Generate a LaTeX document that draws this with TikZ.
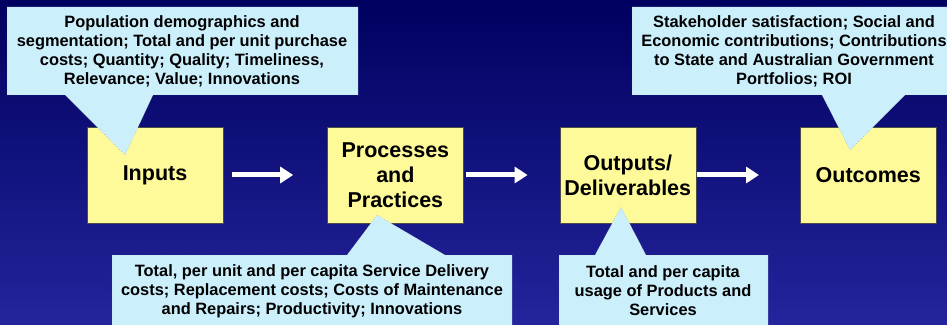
\documentclass[tikz,border=0pt]{standalone}
\usepackage{fontspec}
\setmainfont{Liberation Sans}
\usetikzlibrary{shapes,arrows.meta,positioning}

\definecolor{navytop}{RGB}{0,0,96}
\definecolor{navybottom}{RGB}{36,36,156}

\begin{document}
\begin{tikzpicture}[x=1pt, y=1pt, node distance=104pt,
  stage/.style={draw=black!70, fill=yellow!40, minimum width=136pt, minimum height=96pt, align=center, inner sep=0pt, font=\fontsize{21.5}{25}\selectfont\bfseries},
  flow/.style={line width=5pt, white, -{Triangle[length=13pt, width=16pt]}},
  note/.style={fill=cyan!20, draw=gray, dotted},
  notetext/.style={align=center, inner sep=0pt, font=\fontsize{16.4}{19}\selectfont\bfseries}]
  \useasboundingbox (0,0) rectangle (947,324);
  \shade[top color=navytop, bottom color=navybottom] (0,0) rectangle (947,324);

  \node[stage] (inputs) at (155,149) {Inputs};
  \node[stage, right=of inputs] (process) {Processes\\and\\Practices};
  \node[stage, right=96pt of process] (outputs) {Outputs/\\Deliverables};
  \node[stage, right=of outputs] (outcomes) {Outcomes};

  \draw[flow, shorten <=9pt, shorten >=34pt] (inputs) -- (process);
  \draw[flow, shorten <=2pt, shorten >=32pt] (process) -- (outputs);
  \draw[flow, shorten <=1pt, shorten >=41pt] (outputs) -- (outcomes);

  % callouts
  \draw[note] (7,317) -- (358,317) -- (358,229) -- (153,229) -- (125,169) -- (65,229) -- (7,229) -- cycle;
  \node[notetext] (inNote) at (182,273) {Population demographics and\\segmentation; Total and per unit purchase\\costs; Quantity; Quality; Timeliness,\\Relevance; Value; Innovations};

  \draw[note] (632,317) -- (952,317) -- (952,229) -- (905,229) -- (850,174) -- (822,229) -- (632,229) -- cycle;
  \node[notetext] (outcomeNote) at (794,273) {Stakeholder satisfaction; Social and\\Economic contributions; Contributions\\to State and Australian Government\\Portfolios; ROI};

  \draw[note] (112,-5) -- (112,69) -- (347,69) -- (377,109) -- (445,69) -- (512,69) -- (512,-5) -- cycle;
  \node[notetext] (processNote) at (312,33) {Total, per unit and per capita Service Delivery\\costs; Replacement costs; Costs of Maintenance\\and Repairs; Productivity; Innovations};

  \draw[note] (559,-5) -- (559,69) -- (595,69) -- (621,117) -- (646,69) -- (768,69) -- (768,-5) -- cycle;
  \node[notetext] (outputNote) at (663,33) {Total and per capita\\usage of Products and\\Services};
\end{tikzpicture}
\end{document}
